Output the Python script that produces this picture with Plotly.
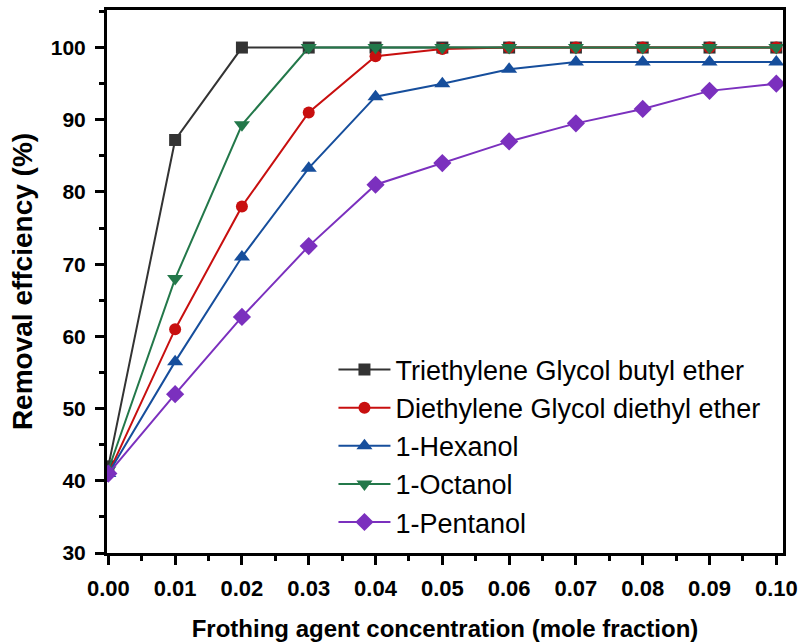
import plotly.graph_objects as go

# Frother concentration (mole fraction)
concentration = [0.00, 0.01, 0.02, 0.03, 0.04, 0.05, 0.06, 0.07, 0.08, 0.09, 0.10]

# Removal efficiency (%) for each frothing agent
teg_butyl_ether = [42.0, 87.2, 100, 100, 100, 100, 100, 100, 100, 100, 100]
deg_diethyl_ether = [41.0, 61.0, 78.0, 91.0, 98.8, 99.8, 100, 100, 100, 100, 100]
hexanol = [41.0, 56.5, 71.0, 83.3, 93.2, 95.0, 97.0, 98.0, 98.0, 98.0, 98.0]
octanol = [41.5, 68.0, 89.3, 100, 100, 100, 100, 100, 100, 100, 100]
pentanol = [41.0, 52.0, 62.7, 72.5, 81.0, 84.0, 87.0, 89.5, 91.5, 94.0, 95.0]

series = [
    ("Triethylene Glycol butyl ether", teg_butyl_ether, "#333333", "square", 12),
    ("Diethylene Glycol diethyl ether", deg_diethyl_ether, "#C80F0F", "circle", 12),
    ("1-Hexanol", hexanol, "#164E9C", "triangle-up", 14),
    ("1-Octanol", octanol, "#23784A", "triangle-down", 14),
    ("1-Pentanol", pentanol, "#7B30BE", "diamond", 14),
]

FONT = "Liberation Sans, Arial, sans-serif"

fig = go.Figure()
for name, values, color, symbol, size in series:
    fig.add_trace(go.Scatter(
        x=concentration, y=values, name=name, mode="lines+markers",
        line=dict(color=color, width=2),
        marker=dict(symbol=symbol, size=size, color=color),
    ))

fig.update_layout(
    width=800, height=643,
    margin=dict(l=107, r=17, t=10, b=90, autoexpand=False),
    paper_bgcolor="white", plot_bgcolor="white",
    font=dict(family=FONT, color="black"),
    showlegend=True,
    legend=dict(
        x=0.335, y=0.382, xanchor="left", yanchor="top",
        font=dict(family=FONT, size=27, color="black"),
        bgcolor="rgba(0,0,0,0)", borderwidth=0,
        itemwidth=52,
    ),
    xaxis=dict(
        range=[-0.0002, 0.101],
        automargin=False,
        tickmode="array",
        tickvals=concentration,
        ticktext=[f"{v:.2f}" for v in concentration],
        ticks="outside", ticklen=9, tickwidth=3, tickcolor="black",
        minor=dict(dtick=0.005, tick0=0, ticks="outside", ticklen=5, tickwidth=3, tickcolor="black"),
        showline=True, linewidth=3, linecolor="black", mirror=True,
        showgrid=False, zeroline=False,
        tickfont=dict(family=FONT, size=22, color="black", weight="bold"),
        ticklabelstandoff=5,
        title=dict(text="<b>Frothing agent concentration (mole fraction)</b>",
                   font=dict(family=FONT, size=24, color="black"), standoff=20),
    ),
    yaxis=dict(
        range=[30, 105.2],
        automargin=False,
        tickmode="array",
        tickvals=[30, 40, 50, 60, 70, 80, 90, 100],
        ticks="outside", ticklen=9, tickwidth=3, tickcolor="black",
        minor=dict(dtick=5, tick0=30, ticks="outside", ticklen=5, tickwidth=3, tickcolor="black"),
        showline=True, linewidth=3, linecolor="black", mirror=True,
        showgrid=False, zeroline=False,
        tickfont=dict(family=FONT, size=21, color="black", weight="bold"),
        ticklabelstandoff=5,
        title=dict(text="<b>Removal effciency (%)</b>",
                   font=dict(family=FONT, size=28, color="black"), standoff=10),
    ),
)

fig.write_html("out.html")
